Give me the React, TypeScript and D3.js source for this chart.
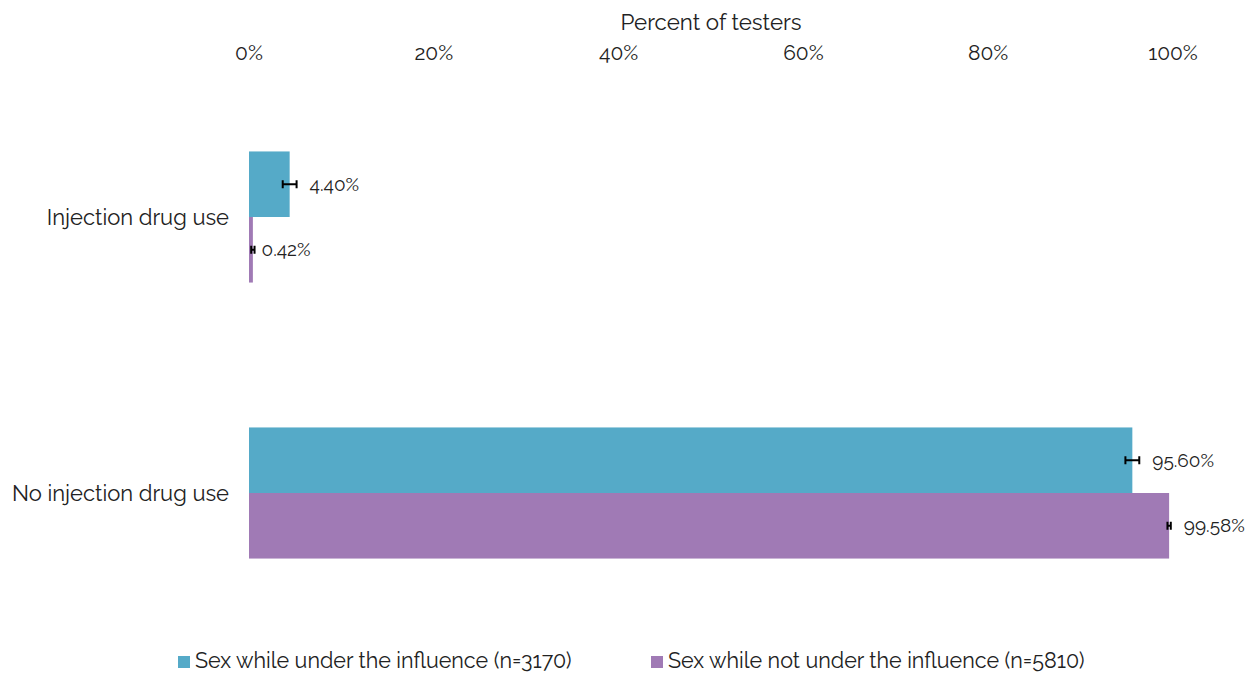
import React, { useEffect, useRef } from 'react';
import * as d3 from 'd3';

const categories = ['Injection drug use', 'No injection drug use'];
const seriesNames = ['Sex while under the influence (n=3170)', 'Sex while not under the influence (n=5810)'];
const seriesColors = ['#55aac8', '#a07ab5'];
const underValues = [4.4, 95.6];
const notUnderValues = [0.42, 99.58];
const underErrors = [0.75, 0.75];
const notUnderErrors = [0.18, 0.18];
const tickValues = [0, 20, 40, 60, 80, 100];

const FONT = 'Raleway, Lato, "Open Sans", sans-serif';

const App = () => {
  const svgRef = useRef<SVGSVGElement>(null);

  useEffect(() => {
    const width = 1250;
    const height = 674;
    const svg = d3.select(svgRef.current);
    svg.selectAll('*').remove();
    svg.attr('width', width).attr('height', height);

    const x = d3.scaleLinear().domain([0, 100]).range([249, 1173]);
    const y = d3.scaleBand().domain(categories).range([79, 631]).paddingInner(0.525).paddingOuter(0.2625);
    const inner = d3.scaleBand().domain(['0', '1']).range([0, y.bandwidth()]);

    const series = [
      { values: underValues, errors: underErrors },
      { values: notUnderValues, errors: notUnderErrors },
    ];

    // Axis title and tick labels on top
    svg.append('text')
      .attr('x', x(50))
      .attr('y', 30)
      .attr('text-anchor', 'middle')
      .style('font-family', FONT)
      .style('font-size', '22.3px')
      .style('fill', '#222')
      .text('Percent of testers');

    svg.selectAll('.tick')
      .data(tickValues)
      .enter()
      .append('text')
      .attr('x', d => x(d))
      .attr('y', 60)
      .attr('text-anchor', 'middle')
      .style('font-family', FONT)
      .style('font-size', '21px')
      .style('fill', '#222')
      .text(d => `${d}%`);

    // Category labels
    svg.selectAll('.cat')
      .data(categories)
      .enter()
      .append('text')
      .attr('x', 229)
      .attr('y', d => (y(d) as number) + y.bandwidth() / 2)
      .attr('dy', '0.35em')
      .attr('text-anchor', 'end')
      .style('font-family', FONT)
      .style('font-size', '22px')
      .style('fill', '#222')
      .text(d => d);

    series.forEach((s, si) => {
      const g = svg.append('g');
      const rows = categories.map((c, i) => ({ c, v: s.values[i], e: s.errors[i] }));
      const by = (d: { c: string }) => (y(d.c) as number) + (inner(String(si)) as number);
      const bh = inner.bandwidth();

      g.selectAll('rect')
        .data(rows)
        .enter()
        .append('rect')
        .attr('x', x(0))
        .attr('y', by)
        .attr('width', d => x(d.v) - x(0))
        .attr('height', bh)
        .attr('fill', seriesColors[si]);

      // error bars
      g.selectAll('.err')
        .data(rows)
        .enter()
        .append('path')
        .attr('d', d => {
          const cy = by(d) + bh / 2;
          const x0 = x(d.v - d.e);
          const x1 = x(d.v + d.e);
          return `M${x0},${cy}H${x1}M${x0},${cy - 4}V${cy + 4}M${x1},${cy - 4}V${cy + 4}`;
        })
        .attr('stroke', '#000')
        .attr('stroke-width', 2)
        .attr('fill', 'none');

      g.selectAll('.lbl')
        .data(rows)
        .enter()
        .append('text')
        .attr('x', d => x(d.v + d.e) + (d.v < 1 ? 7 : 13))
        .attr('y', d => by(d) + bh / 2)
        .attr('dy', '0.35em')
        .style('font-family', FONT)
        .style('font-size', '19px')
        .style('fill', '#222')
        .text(d => `${d.v.toFixed(2)}%`);
    });

    // Legend
    const legendX = [178, 651];
    seriesNames.forEach((name, i) => {
      svg.append('rect')
        .attr('x', legendX[i])
        .attr('y', 656)
        .attr('width', 12)
        .attr('height', 12)
        .attr('fill', seriesColors[i]);
      svg.append('text')
        .attr('x', legendX[i] + 17)
        .attr('y', 668)
        .style('font-family', FONT)
        .style('font-size', '21.5px')
        .style('fill', '#222')
        .text(name);
    });
  }, []);

  return <svg ref={svgRef} style={{ position: 'absolute', left: 0, top: 0 }}></svg>;
};

export default App;
